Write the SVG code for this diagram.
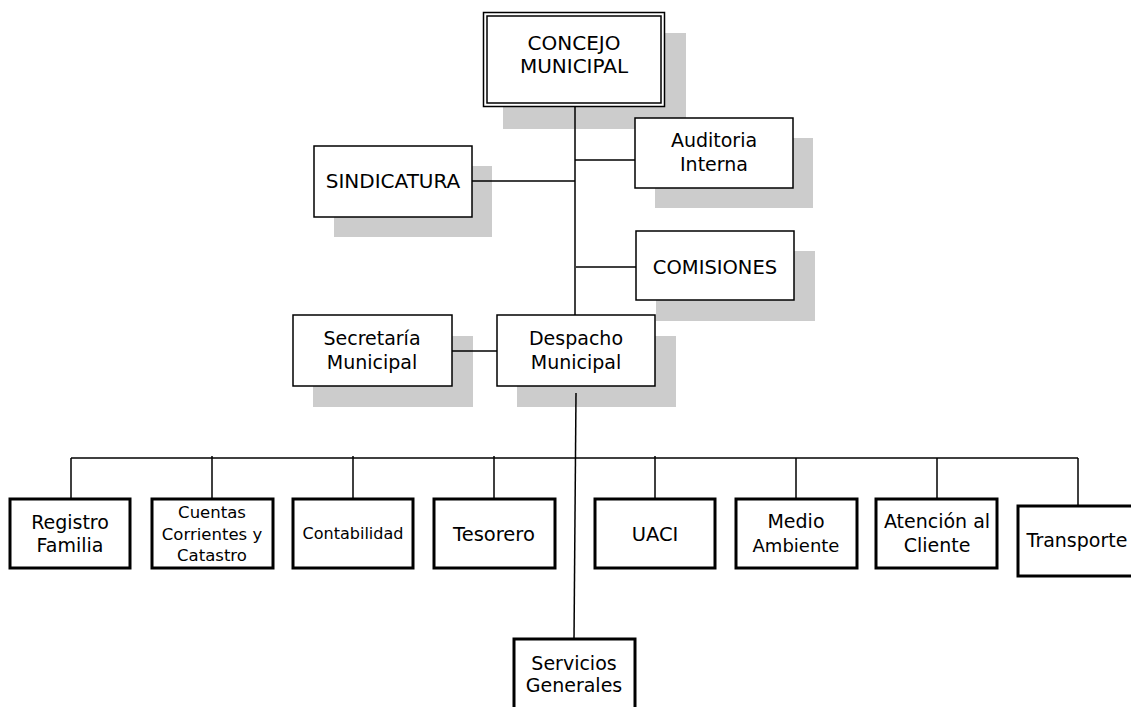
<svg xmlns="http://www.w3.org/2000/svg" width="1131" height="707" viewBox="0 0 1131 707">
  <style>
    .shadow { fill: #cccccc; }
    .box { fill: #ffffff; stroke: #000000; stroke-width: 1.5; }
    .boxb { fill: #ffffff; stroke: #000000; stroke-width: 3; }
    .line { stroke: #000000; stroke-width: 1.5; fill: none; }
    text { font-family: "DejaVu Sans", Verdana, sans-serif; font-size: 19px; fill: #000000; text-anchor: middle; }
  </style>
  <rect width="1131" height="707" fill="#ffffff"/>

  <!-- drop shadows -->
  <g id="shadows">
    <rect class="shadow" x="503" y="33" width="183" height="96"/>
    <rect class="shadow" x="655" y="138" width="158" height="70"/>
    <rect class="shadow" x="334" y="166" width="158" height="71"/>
    <rect class="shadow" x="656" y="251" width="159" height="70"/>
    <rect class="shadow" x="313" y="336" width="160" height="71"/>
    <rect class="shadow" x="517" y="336" width="159" height="71"/>
  </g>

  <!-- connectors -->
  <g id="connectors">
    <line class="line" x1="575" y1="107" x2="575" y2="316"/>
    <line class="line" x1="575" y1="160" x2="635" y2="160"/>
    <line class="line" x1="472" y1="181" x2="575" y2="181"/>
    <line class="line" x1="576" y1="267" x2="636" y2="267"/>
    <line class="line" x1="452" y1="351" x2="497" y2="351"/>
    <line class="line" x1="576" y1="393" x2="574" y2="639"/>
    <line class="line" x1="71" y1="458" x2="1078" y2="458"/>
    <line class="line" x1="71" y1="458" x2="71" y2="498"/>
    <line class="line" x1="212" y1="456" x2="212" y2="498"/>
    <line class="line" x1="353" y1="456" x2="353" y2="498"/>
    <line class="line" x1="494" y1="456" x2="494" y2="498"/>
    <line class="line" x1="655" y1="456" x2="655" y2="498"/>
    <line class="line" x1="796" y1="458" x2="796" y2="498"/>
    <line class="line" x1="937" y1="458" x2="937" y2="498"/>
    <line class="line" x1="1078" y1="458" x2="1078" y2="505"/>
  </g>

  <g id="concejo">
    <rect class="box" x="483.5" y="12.5" width="181" height="94"/>
    <rect class="box" x="487" y="16" width="174" height="87"/>
    <text x="574" y="50" style="font-size:20px">CONCEJO</text>
    <text x="574" y="73" style="font-size:20px">MUNICIPAL</text>
  </g>

  <g id="auditoria">
    <rect class="box" x="635" y="118" width="158" height="70"/>
    <text x="714" y="147">Auditoria</text>
    <text x="714" y="171">Interna</text>
  </g>

  <g id="sindicatura">
    <rect class="box" x="314" y="146" width="158" height="71"/>
    <text x="393" y="188" style="font-size:20px">SINDICATURA</text>
  </g>

  <g id="comisiones">
    <rect class="box" x="636" y="231" width="158" height="69"/>
    <text x="715" y="274" style="font-size:19.5px">COMISIONES</text>
  </g>

  <g id="secretaria">
    <rect class="box" x="293" y="315" width="159" height="71"/>
    <text x="372" y="345">Secretaría</text>
    <text x="372" y="369">Municipal</text>
  </g>

  <g id="despacho">
    <rect class="box" x="497" y="315" width="158" height="71"/>
    <text x="576" y="345">Despacho</text>
    <text x="576" y="369">Municipal</text>
  </g>

  <g id="registro">
    <rect class="boxb" x="10" y="499" width="120" height="69"/>
    <text x="70" y="529">Registro</text>
    <text x="70" y="552">Familia</text>
  </g>

  <g id="cuentas">
    <rect class="boxb" x="152" y="499" width="121" height="69"/>
    <text x="212" y="518" style="font-size:16.5px">Cuentas</text>
    <text x="212" y="540" style="font-size:16.5px">Corrientes y</text>
    <text x="212" y="561" style="font-size:16.5px">Catastro</text>
  </g>

  <g id="contabilidad">
    <rect class="boxb" x="293" y="499" width="120" height="69"/>
    <text x="353" y="539" style="font-size:16px">Contabilidad</text>
  </g>

  <g id="tesorero">
    <rect class="boxb" x="434" y="499" width="121" height="69"/>
    <text x="494" y="541" style="font-size:19.5px">Tesorero</text>
  </g>

  <g id="uaci">
    <rect class="boxb" x="595" y="499" width="120" height="69"/>
    <text x="655" y="541" style="font-size:19.5px">UACI</text>
  </g>

  <g id="medio-ambiente">
    <rect class="boxb" x="736" y="499" width="121" height="69"/>
    <text x="796" y="528">Medio</text>
    <text x="796" y="552" style="font-size:18px">Ambiente</text>
  </g>

  <g id="atencion">
    <rect class="boxb" x="876" y="499" width="121" height="69"/>
    <text x="937" y="528">Atención al</text>
    <text x="937" y="552">Cliente</text>
  </g>

  <g id="transporte">
    <rect class="boxb" x="1018" y="506" width="122" height="70"/>
    <text x="1077" y="547">Transporte</text>
  </g>

  <g id="servicios">
    <rect class="boxb" x="514" y="639" width="121" height="80"/>
    <text x="574" y="670">Servicios</text>
    <text x="574" y="692">Generales</text>
  </g>
</svg>
